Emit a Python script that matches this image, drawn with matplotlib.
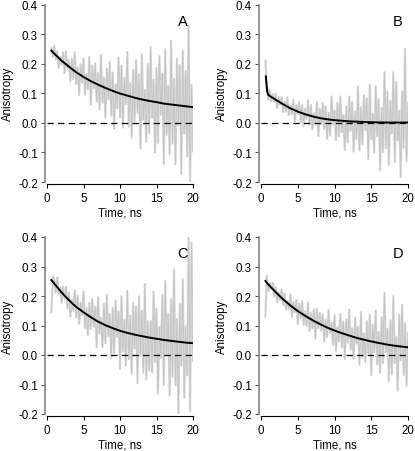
import numpy as np
import matplotlib
matplotlib.use("Agg")
import matplotlib.pyplot as plt

plt.rcParams['font.family'] = ['Liberation Sans', 'DejaVu Sans']

# time axis of the measured decays (ns)
t_data = np.linspace(0.6, 20.0, 98)

r_A = [0.252, 0.222, 0.260, 0.215, 0.242, 0.186, 0.223, 0.197, 0.238, 0.168,
       0.243, 0.184, 0.212, 0.140, 0.217, 0.148, 0.239, 0.131, 0.188, 0.094,
       0.198, 0.136, 0.217, 0.096, 0.165, 0.113, 0.222, 0.061, 0.194, 0.117,
       0.201, 0.072, 0.169, 0.045, 0.230, 0.069, 0.153, 0.017, 0.184, 0.079,
       0.207, 0.025, 0.170, -0.020, 0.130, 0.050, 0.221, 0.018, 0.194, -0.016,
       0.152, 0.064, 0.239, -0.013, 0.134, -0.050, 0.180, 0.006, 0.212, 0.034,
       0.164, -0.087, 0.232, 0.009, 0.112, -0.065, 0.200, -0.035, 0.256, 0.016,
       0.146, -0.101, 0.186, -0.068, 0.226, 0.027, 0.167, -0.139, 0.249, -0.041,
       0.126, -0.108, 0.278, -0.070, 0.149, -0.140, 0.217, -0.009, 0.195, -0.174,
       0.244, -0.037, 0.176, -0.114, 0.330, -0.200, 0.128, -0.097]
r_B = [0.210, 0.121, 0.077, 0.113, 0.072, 0.097, 0.071, 0.098, 0.049, 0.088,
       0.061, 0.086, 0.037, 0.072, 0.038, 0.087, 0.026, 0.059, 0.029, 0.078,
       0.004, 0.060, 0.030, 0.070, 0.003, 0.060, -0.010, 0.048, 0.013, 0.077,
       -0.006, 0.061, -0.022, 0.032, -0.005, 0.072, -0.045, 0.048, -0.005, 0.068,
       -0.021, 0.056, -0.054, 0.034, -0.043, 0.089, -0.006, 0.042, -0.059, 0.069,
       -0.045, 0.089, -0.031, 0.026, -0.092, 0.056, -0.067, 0.089, -0.027, 0.071,
       -0.097, 0.039, -0.055, 0.124, -0.094, 0.053, -0.073, 0.094, -0.025, 0.083,
       -0.122, 0.129, -0.055, 0.031, -0.102, 0.124, -0.045, 0.080, -0.160, 0.050,
       -0.099, 0.171, -0.086, 0.107, -0.142, 0.074, -0.036, 0.171, -0.133, 0.138,
       -0.059, 0.041, -0.184, 0.106, -0.084, 0.250, -0.131, 0.068]
r_C = [0.145, 0.268, 0.254, 0.211, 0.263, 0.207, 0.229, 0.177, 0.232, 0.189,
       0.232, 0.158, 0.211, 0.130, 0.188, 0.150, 0.219, 0.128, 0.202, 0.106,
       0.178, 0.135, 0.215, 0.092, 0.160, 0.067, 0.178, 0.088, 0.191, 0.096,
       0.163, 0.026, 0.196, 0.073, 0.127, 0.027, 0.174, 0.039, 0.205, 0.064,
       0.139, -0.010, 0.161, 0.006, 0.184, 0.061, 0.148, -0.047, 0.200, 0.012,
       0.119, -0.036, 0.218, -0.014, 0.133, -0.065, 0.178, 0.022, 0.164, -0.096,
       0.199, -0.003, 0.150, -0.060, 0.240, -0.084, 0.115, -0.053, 0.115, -0.059,
       0.215, -0.024, 0.157, -0.132, 0.095, -0.011, 0.204, -0.103, 0.251, 0.005,
       0.141, -0.138, 0.190, -0.074, 0.291, -0.103, 0.122, -0.200, 0.174, -0.035,
       0.257, -0.146, 0.097, -0.069, 0.400, -0.190, 0.380, -0.019]
r_D = [0.130, 0.268, 0.217, 0.244, 0.223, 0.245, 0.198, 0.230, 0.178, 0.212,
       0.186, 0.223, 0.169, 0.209, 0.153, 0.183, 0.154, 0.206, 0.129, 0.180,
       0.145, 0.187, 0.104, 0.174, 0.124, 0.182, 0.102, 0.148, 0.099, 0.179,
       0.082, 0.143, 0.091, 0.155, 0.055, 0.157, 0.090, 0.142, 0.084, 0.138,
       0.046, 0.121, 0.060, 0.153, 0.075, 0.108, 0.034, 0.135, 0.014, 0.094,
       0.046, 0.140, 0.025, 0.114, -0.013, 0.121, 0.042, 0.155, 0.019, 0.091,
       -0.013, 0.127, 0.039, 0.096, -0.034, 0.146, -0.009, 0.073, -0.024, 0.115,
       0.004, 0.137, -0.068, 0.103, 0.009, 0.150, -0.031, 0.078, -0.060, 0.128,
       -0.027, 0.210, 0.009, 0.089, -0.089, 0.118, -0.066, 0.200, -0.027, 0.061,
       -0.121, 0.136, -0.018, 0.170, -0.068, 0.108, -0.105, 0.076]

# fitted curves (black lines)
fit_t = [0.6, 1, 2, 3, 4, 5, 6, 7, 8, 9, 10, 11, 12, 13, 14, 15, 16, 17, 18, 19, 20]
fit_A = [0.244, 0.234, 0.210, 0.190, 0.171, 0.155, 0.141, 0.129, 0.118, 0.108, 0.099,
         0.092, 0.085, 0.079, 0.074, 0.070, 0.065, 0.062, 0.059, 0.056, 0.053]
fit_C = [0.254, 0.242, 0.212, 0.186, 0.163, 0.145, 0.128, 0.113, 0.101, 0.091, 0.082,
         0.075, 0.069, 0.064, 0.059, 0.055, 0.051, 0.048, 0.045, 0.042, 0.040]
fit_D = [0.251, 0.239, 0.213, 0.189, 0.168, 0.149, 0.133, 0.118, 0.105, 0.093, 0.083,
         0.074, 0.066, 0.058, 0.052, 0.046, 0.041, 0.036, 0.032, 0.029, 0.026]
fit_tB = [0.65, 0.75, 0.85, 1.0, 1.5, 2, 3, 4, 5, 6, 7, 8, 9, 10, 11, 12, 13, 14, 15,
          16, 17, 18, 19, 20]
fit_B = [0.157, 0.130, 0.105, 0.094, 0.086, 0.078, 0.063, 0.049, 0.038, 0.029, 0.022,
         0.016, 0.012, 0.009, 0.007, 0.005, 0.004, 0.003, 0.002, 0.0015, 0.001, 0.001,
         0.001, 0.001]

labels = ['A', 'B', 'C', 'D']
yticks = [-0.2, -0.1, 0.0, 0.1, 0.2, 0.3, 0.4]
xticks = [0, 5, 10, 15, 20]

W, H = 415, 452
fig = plt.figure(figsize=(W / 100, H / 100), dpi=100)

# axes boxes in pixels: (x of t=0, x of t=20, y of 0.4, y of -0.2)
boxes = [(47, 193, 5.5, 183), (261, 408, 5.5, 183),
         (47, 193, 238, 415), (261, 408, 238, 415)]
panels = [(r_A, fit_t, fit_A), (r_B, fit_tB, fit_B),
          (r_C, fit_t, fit_C), (r_D, fit_t, fit_D)]

for (x0, x1, y0, y1), (r, ft, fv), lab in zip(boxes, panels, labels):
    ax = fig.add_axes([x0 / W, 1 - y1 / H, (x1 - x0) / W, (y1 - y0) / H])
    # grey data trace, drawn twice (wide pale + thin darker) to get the dense band look
    ax.plot(t_data, r, color='#dadada', lw=1.6, zorder=1)
    ax.plot(t_data, r, color='#c4c4c4', lw=0.6, zorder=1)
    ax.axhline(0, color='black', lw=0.9, ls=(0, (5, 3.5)), zorder=2)
    ax.plot(ft, fv, color='black', lw=1.4, zorder=3)
    ax.set_xlim(0, 20)
    ax.set_ylim(-0.2, 0.4)
    ax.set_xticks(xticks)
    ax.set_yticks(yticks)
    ax.set_yticklabels(['%.1f' % v for v in yticks])
    for s in ['top', 'right']:
        ax.spines[s].set_visible(False)
    ax.spines['left'].set_position(('outward', 1.5))
    ax.spines['bottom'].set_position(('outward', 1.2))
    ax.spines['left'].set_color('#7a7a7a')
    ax.spines['left'].set_linewidth(1.1)
    ax.spines['bottom'].set_linewidth(0.8)
    ax.tick_params(axis='y', length=3, width=0.8, pad=2, labelsize=8.3, color='#555555')
    ax.tick_params(axis='x', length=3, width=0.8, pad=3, labelsize=8.3)
    ax.set_ylabel('Anisotropy', fontsize=8.3, labelpad=3)
    ax.set_xlabel('Time, ns', fontsize=8.3, labelpad=2)
    ax.text(18.6, 0.345, lab, fontsize=10.5, ha='center', va='center')

fig.savefig('out.png', dpi=100)
